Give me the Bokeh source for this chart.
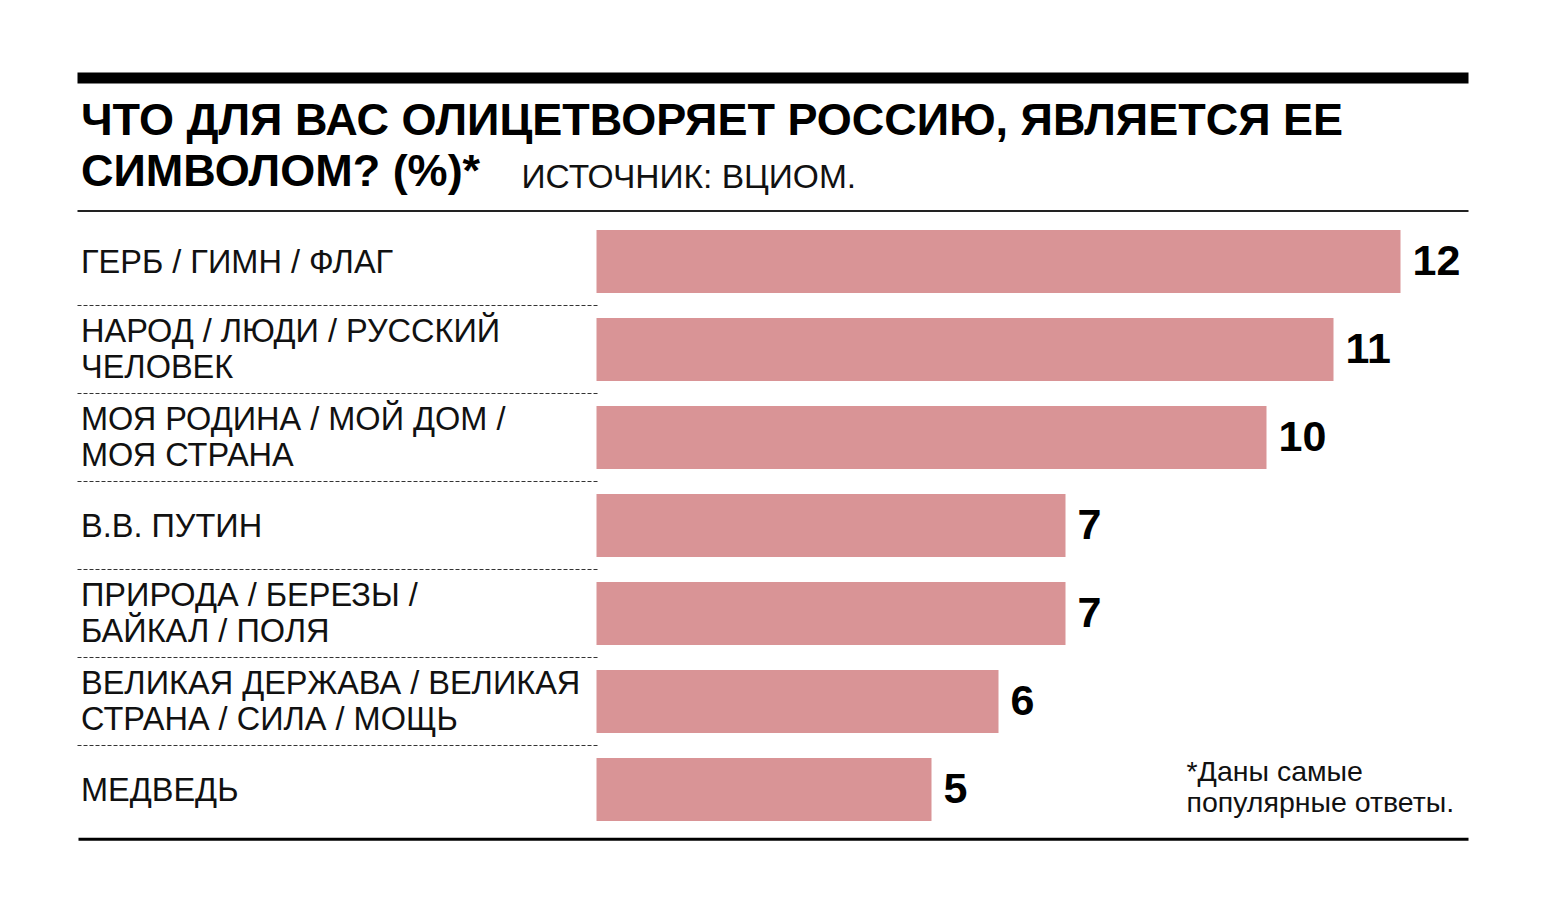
from bokeh.plotting import figure
from bokeh.models import Range1d
from bokeh.embed import file_html
from bokeh.resources import INLINE
from bokeh.core.properties import value

# ---- data ----
categories = [
    "ГЕРБ / ГИМН / ФЛАГ",
    "НАРОД / ЛЮДИ / РУССКИЙ\nЧЕЛОВЕК",
    "МОЯ РОДИНА / МОЙ ДОМ /\nМОЯ СТРАНА",
    "В.В. ПУТИН",
    "ПРИРОДА / БЕРЕЗЫ /\nБАЙКАЛ / ПОЛЯ",
    "ВЕЛИКАЯ ДЕРЖАВА / ВЕЛИКАЯ\nСТРАНА / СИЛА / МОЩЬ",
    "МЕДВЕДЬ",
]
values = [12, 11, 10, 7, 7, 6, 5]
title_lines = ["ЧТО ДЛЯ ВАС ОЛИЦЕТВОРЯЕТ РОССИЮ, ЯВЛЯЕТСЯ ЕЕ", "СИМВОЛОМ? (%)*"]
source_text = "ИСТОЧНИК: ВЦИОМ."
footnote_lines = ["*Даны самые", "популярные ответы."]

# ---- layout ----
W, H = 1542, 906
BAR_X0 = 596          # pixel x of value 0
PX_PER_UNIT = 67.0
ROW0 = 261            # pixel y of first row centre
ROW_STEP = 88.0
FONT = "Liberation Sans"
BAR_COLOR = "#D99496"

x_range = Range1d(-BAR_X0 / PX_PER_UNIT, (W - BAR_X0) / PX_PER_UNIT)
y_range = Range1d((H - ROW0) / ROW_STEP, -ROW0 / ROW_STEP)

p = figure(width=W, height=H, x_range=x_range, y_range=y_range,
           output_backend="svg", toolbar_location=None,
           x_axis_type=None, y_axis_type=None, min_border=0,
           outline_line_color=None, background_fill_color="white",
           border_fill_color="white")
p.grid.visible = False
p.extra_x_ranges["px"] = Range1d(0, W)
p.extra_y_ranges["px"] = Range1d(H, 0)

idx = list(range(len(values)))

# bars
p.hbar(y=idx, left=0, right=values, height=63 / ROW_STEP,
       fill_color=BAR_COLOR, line_color=None)

# value labels
p.text(x=values, y=idx, text=[str(v) for v in values], x_offset=12, y_offset=-1,
       text_font=value(FONT), text_font_style="bold", text_font_size="43px",
       text_color="black", text_baseline="alphabetic", text_align="left")

# category labels (split into lines)
lab_y, lab_txt, lab_off = [], [], []
for i, c in enumerate(categories):
    parts = c.split("\n")
    offs = [0] if len(parts) == 1 else [-18.5, 17.5]
    for t, o in zip(parts, offs):
        lab_y.append(i)
        lab_txt.append(t)
        lab_off.append(o)
p.text(x=[80.5] * len(lab_txt), y=lab_y, text=lab_txt, y_offset=lab_off,
       x_range_name="px", text_font=value(FONT), text_font_size="32.5px",
       text_color="#111111", text_baseline="alphabetic", text_align="left")

# dashed separators
sep_y = [i + 0.5 for i in idx[:-1]]
p.segment(x0=[77] * len(sep_y), x1=[597] * len(sep_y), y0=sep_y, y1=sep_y,
          x_range_name="px", line_color="#333333", line_width=1, line_dash="4 2")

# rules
p.quad(left=[77], right=[1468], top=[72], bottom=[83], x_range_name="px",
       y_range_name="px", fill_color="black", line_color=None)
p.quad(left=[77], right=[1468], top=[209.5], bottom=[211.5], x_range_name="px",
       y_range_name="px", fill_color="#222222", line_color=None)
p.quad(left=[78], right=[1468], top=[837.3], bottom=[840.2], x_range_name="px",
       y_range_name="px", fill_color="black", line_color=None)

# title
p.text(x=[80.5, 80.5], y=[119, 170], text=title_lines, x_range_name="px",
       y_range_name="px", text_font=value(FONT), text_font_style="bold",
       text_font_size="45px", text_color="black", text_baseline="alphabetic")
p.text(x=[521], y=[175.5], text=[source_text], x_range_name="px",
       y_range_name="px", text_font=value(FONT), text_font_size="33.5px",
       text_color="#111111", text_baseline="alphabetic")

# footnote
p.text(x=[1186, 1186], y=[770, 801], text=footnote_lines, x_range_name="px",
       y_range_name="px", text_font=value(FONT), text_font_size="28.5px",
       text_color="#111111", text_baseline="alphabetic")

open("out.html", "w").write(file_html(p, INLINE))
